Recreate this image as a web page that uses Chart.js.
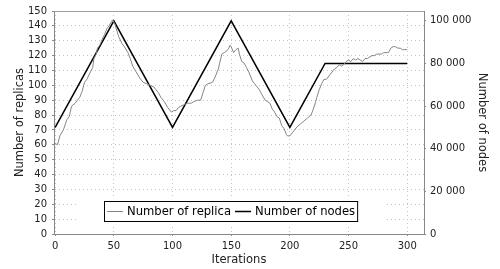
<!DOCTYPE html>
<html>
<head>
<meta charset="utf-8">
<script src="https://cdn.jsdelivr.net/npm/chart.js@4"></script>
<style>
  html, body { margin: 0; padding: 0; background: #fff; }
  #wrap { width: 500px; height: 269px; }
</style>
</head>
<body>
<div id="wrap"><canvas id="chart" width="500" height="269"></canvas></div>
<script>
// replica count per iteration (left axis)
const replicaIter = [0,2,4,7,10,12,14,17,19,21,23,25,27,30,32,33,35,36,38,40,42,44,46,48,49,51,54,57,59,62,64,66,69,72,75,78,81,84,86,88,90,93,96,99,101,103,105,107,110,113,116,118,121,124,126,128,130,134,136,139,142,144,146,148,149,150,152,154,156,157,159,161,163,165,168,170,172,174,176,179,181,183,185,187,189,191,193,195,197,198,200,202,204,206,209,212,215,218,220,222,223,225,227,229,231,234,236,238,240,242,244,246,248,250,252,254,256,258,260,262,264,266,268,270,272,274,276,278,280,282,284,286,288,290,292,294,296,298,300];
const replicaCount = [61,60,66,70,77,79,86,88,90,92,96,102,104,109,112,118,121,125,127,131,134,138,140,143,144,141,133,128,126,122,118,113,109,105,102,101,100,99,97,95,92,89,85,82,83,83,85,86,87,88,88,89,90,90,95,100,101,102,105,111,121,122,123,125,127,126,122,124,125,121,116,115,112,109,103,101,99,97,94,90,89,88,84,82,79,78,73,71,67,66,66,68,70,72,74,76,78,80,84,89,92,97,101,104,104,107,109,111,112,114,113,114,116,117,116,118,117,118,117,116,118,118,119,120,120,121,121,121,122,122,122,125,126,126,125,125,124,124,124];

// node count (right axis)
const nodeIter = [0,50,100,150,200,230,300];
const nodeCount = [50000,100000,50000,100000,50000,80000,80000];

const xTicks = [0,50,100,150,200,250,300];
const replicaTicks = [0,10,20,30,40,50,60,70,80,90,100,110,120,130,140,150];
const nodeTicks = [0,20000,40000,60000,80000,100000];

const FONT = "'DejaVu Sans', sans-serif";
const fmt = v => String(v).replace(/\B(?=(\d{3})+(?!\d))/g, ' ');
const setTicks = arr => scale => { scale.ticks = arr.map(v => ({ value: v })); };

const frame = {
  id: 'frame',
  afterDatasetsDraw(chart) {
    const { ctx, chartArea: a } = chart;
    ctx.save();
    ctx.strokeStyle = '#a0a0a0';
    ctx.lineWidth = 1;
    ctx.beginPath();
    ctx.moveTo(a.left, a.top + 0.5);
    ctx.lineTo(a.right, a.top + 0.5);
    ctx.stroke();

    // legend inside the plot
    ctx.font = '11.6px ' + FONT;
    const ds = chart.data.datasets;
    const x0 = a.left + 50, y0 = 201, h = 20;
    let w = 3;
    ds.forEach(d => { w += 16 + 4 + ctx.measureText(d.label).width + 3; });
    ctx.fillStyle = '#fff';
    ctx.fillRect(a.left + 23, y0 - 4, 308, h + 7);
    ctx.strokeStyle = '#000';
    ctx.strokeRect(x0 + 0.5, y0 + 0.5, w, h);
    let x = x0 + 3;
    const cy = y0 + h / 2 + 0.5;
    ctx.textBaseline = 'middle';
    ds.forEach(d => {
      ctx.strokeStyle = d.borderColor;
      ctx.lineWidth = d.borderWidth;
      ctx.beginPath();
      ctx.moveTo(x, cy);
      ctx.lineTo(x + 16, cy);
      ctx.stroke();
      x += 20;
      ctx.fillStyle = '#000';
      ctx.fillText(d.label, x, cy + 0.5);
      x += ctx.measureText(d.label).width + 4;
    });
    ctx.restore();
  }
};

new Chart(document.getElementById('chart'), {
  type: 'line',
  data: {
    datasets: [
      {
        label: 'Number of replica',
        data: replicaIter.map((x, i) => ({ x, y: replicaCount[i] })),
        yAxisID: 'y',
        borderColor: '#858585',
        borderWidth: 1,
        pointRadius: 0,
        tension: 0
      },
      {
        label: 'Number of nodes',
        data: nodeIter.map((x, i) => ({ x, y: nodeCount[i] })),
        yAxisID: 'y2',
        borderColor: '#000000',
        borderWidth: 1.5,
        pointRadius: 0,
        tension: 0
      }
    ]
  },
  options: {
    responsive: false,
    animation: false,
    devicePixelRatio: 1,
    layout: { padding: { top: 5, left: 0, right: 0, bottom: 0 } },
    plugins: { legend: { display: false }, tooltip: { enabled: false } },
    scales: {
      x: {
        type: 'linear', position: 'bottom', min: -1, max: 314.3,
        afterBuildTicks: setTicks(xTicks),
        afterFit: s => { s.height = 35; },
        grid: { color: '#c4c4c4', tickColor: '#888', tickLength: 2 },
        border: { color: '#888', dash: [1, 3] },
        ticks: { color: '#222', font: { family: FONT, size: 10 }, padding: 4, maxRotation: 0, autoSkip: false },
        title: { display: true, text: 'Iterations', color: '#222', font: { family: FONT, size: 11.5 }, padding: { top: 0, bottom: 2 } }
      },
      y: {
        type: 'linear', position: 'left', min: 0, max: 150,
        afterBuildTicks: setTicks(replicaTicks),
        afterFit: s => { s.width = 54; },
        grid: { color: '#c4c4c4', tickColor: '#888', tickLength: 2 },
        border: { color: '#888', dash: [1, 3] },
        ticks: { color: '#222', font: { family: FONT, size: 10 }, padding: 5, autoSkip: false },
        title: { display: true, text: 'Number of replicas', color: '#222', font: { family: FONT, size: 11.5 }, padding: { top: 13, bottom: 0 } }
      },
      y2: {
        type: 'linear', position: 'right', min: 0, max: 104600,
        afterBuildTicks: setTicks(nodeTicks),
        afterFit: s => { s.width = 76; },
        grid: { drawOnChartArea: false, tickColor: '#888', tickLength: 2 },
        border: { color: '#888' },
        ticks: { color: '#222', font: { family: FONT, size: 10 }, padding: 4, autoSkip: false, callback: v => fmt(v) },
        title: { display: true, text: 'Number of nodes', color: '#222', font: { family: FONT, size: 11.5 }, padding: { top: 11, bottom: 0 } }
      }
    }
  },
  plugins: [frame]
});
</script>
</body>
</html>
